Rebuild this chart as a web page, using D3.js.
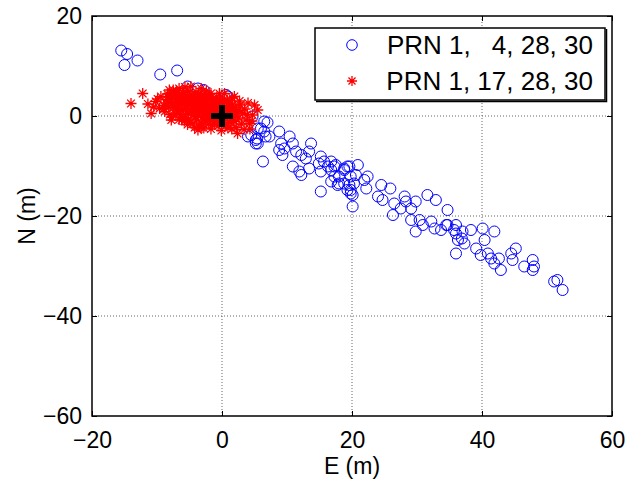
<!DOCTYPE html>
<html>
<head>
<meta charset="utf-8">
<script src="https://cdn.jsdelivr.net/npm/d3@7"></script>
<style>
  body { margin: 0; background: #fff; }
  svg text { font-family: "Liberation Sans", Arial, sans-serif; fill: #000; }
</style>
</head>
<body>
<div id="chart"></div>
<script>
// tick values
const xTicks = [-20, 0, 20, 40, 60];
const yTicks = [-60, -40, -20, 0, 20];
const legendLabels = ['PRN 1,   4, 28, 30', 'PRN 1, 17, 28, 30'];

// PRN 1, 4, 28, 30 (blue circles) - [E, N]
const blueE = [-15.5,-14.6,-13.0,-15.0,-9.5,-6.9,-5.3,-3.7,-2.8,0.6,0.9,
  4.7,6.5,6.0,4.5,5.4,5.2,6.7,
  7.0,5.5,6.5,4.0,5.2,5.5,7.3,8.8,10.4,9.1,8.8,9.6,10.9,11.4,9.3,6.3,13.7,12.2,12.9,13.4,10.9,12.2,11.9,13.4,15.2,15.7,14.9,16.3,16.8,15.2,17.5,15.2,18.8,19.3,18.0,16.8,17.8,18.8,19.6,19.3,20.6,20.9,19.8,20.1,
  16.8,17.3,18.8,19.6,17.3,18.0,19.8,20.3,19.8,20.1,21.9,22.4,22.2,24.5,25.9,24.0,24.7,26.5,28.1,28.3,27.5,26.3,29.1,29.8,31.6,32.9,34.7,29.1,30.4,30.9,29.8,32.2,32.7,33.7,34.7,36.0,36.3,
  34.5,36.0,35.7,37.0,38.3,36.9,37.3,36.0,40.1,41.9,40.4,39.1,39.8,40.9,41.4,41.9,42.9,42.6,44.5,45.2,44.7,46.5,47.8,48.0,47.8,51.1,51.6,52.4];
const blueN = [13.1,12.4,11.1,10.2,8.3,9.1,5.9,5.5,5.2,4.2,3.9,
  -0.1,-1.1,-2.5,-3.8,-4.5,-5.5,-4.1,
  -1.3,-2.5,-3.1,-4.1,-4.8,-5.5,-4.1,-3.1,-4.1,-5.5,-6.8,-6.5,-5.5,-7.1,-7.8,-9.1,-5.5,-7.8,-8.5,-7.1,-10.1,-11.8,-11.1,-10.5,-8.1,-9.1,-9.5,-10.1,-10.8,-11.1,-9.8,-15.1,-10.8,-10.1,-12.1,-13.1,-13.8,-13.5,-13.8,-14.8,-11.8,-9.8,-14.8,-15.8,
  -9.1,-10.1,-10.5,-10.1,-12.1,-13.5,-12.1,-13.5,-15.5,-18.1,-12.8,-12.1,-14.5,-13.8,-14.5,-16.1,-16.8,-17.5,-16.1,-17.1,-18.5,-19.8,-18.5,-17.1,-15.8,-16.8,-18.8,-20.8,-20.8,-21.8,-23.1,-21.1,-22.5,-22.8,-21.8,-23.5,-24.8,
  -21.8,-21.8,-22.8,-23.1,-22.8,-24.5,-25.5,-27.5,-22.5,-23.1,-24.8,-26.5,-27.8,-27.5,-28.5,-29.5,-30.8,-28.5,-27.5,-26.5,-28.8,-30.1,-28.8,-30.1,-30.8,-33.1,-32.8,-34.8];

// PRN 1, 17, 28, 30 (red stars) - [E, N]
const redE = [-14.0,-12.2,-10.9,-9.4,-10.2,-8.1,-6.6,-4.8,-3.2,-1.7,0.4,1.9,5.0,5.5,4.7,4.2,2.4,0.9,-1.2,-3.7,-5.8,-7.8,-8.8,-7.0,
  -9.0,-8.5,-8.2,-7.9,-7.6,-7.3,-7.1,-6.9,-6.7,-6.5,-6.3,-6.1,-6.0,-5.8,-5.6,-5.5,-5.3,-5.2,-5.0,-4.9,-4.8,-4.6,-4.5,-4.3,-4.2,-4.0,-3.9,-3.8,-3.6,-3.5,-3.4,-3.3,-3.1,-3.0,-2.9,-2.8,-2.6,-2.5,-2.4,-2.3,-2.1,-2.0,-1.9,-1.8,-1.6,-1.5,-1.4,-1.3,-1.1,-1.0,-0.9,-0.8,-0.6,-0.5,-0.4,-0.3,-0.2,0.0,0.1,0.3,0.5,0.6,0.8,0.9,1.1,1.2,1.4,1.6,1.8,2.0,2.2,2.3,2.6,2.8,3.0,3.2,3.5,3.7,4.0,4.3,
  -8.6,-8.0,-7.5,-7.2,-6.8,-6.4,-6.2,-5.9,-5.7,-5.4,-5.1,-4.9,-4.7,-4.4,-4.1,-3.9,-3.7,-3.6,-3.3,-3.2,-2.9,-2.7,-2.5,-2.2,-2.0,-1.8,-1.5,-1.3,-1.1,-0.8,-0.6,-0.2,0.2,0.4,0.7,1.0,1.3,1.7,2.1,2.5,
  -9.6,-10.5,-11.4,-9.9,-8.4,-7.7,-6.6,-5.3,-4.2,-2.8,-1.7,-0.1,1.5,3.4,4.6,3.9,2.7,1.6,-0.4,-2.4,-5.7,-7.5,
  -7.4,-6.9,-6.6,-6.1,-5.6,-5.4,-5.0,-4.7,-4.4,-4.0,-3.8,-3.4,-3.0,-2.7,-2.6,-2.3,-1.9,-1.7,-1.4,-1.2,-0.9,-0.7,-0.5,-0.1,0.3,0.5,0.9,1.3,1.6,2.0,-8.3,-7.0,-8.9,-7.8,-6.2,-4.6,-3.1,-2.0,-0.6,0.8];
const redN = [2.5,4.5,0.5,3.9,2.9,5.2,5.5,5.9,5.5,4.5,4.5,3.9,2.2,1.2,0.2,-1.5,-3.5,-2.4,-1.5,-2.8,-1.0,-0.8,0.9,1.2,
  2.1,3.3,1.8,4.1,2.6,3.6,0.4,4.7,2.0,3.0,1.1,4.2,-0.3,2.4,3.7,1.6,5.0,0.5,2.9,-1.2,4.3,1.9,3.4,0.2,2.6,4.8,-0.8,1.4,3.1,-2.0,2.2,4.0,0.7,-0.3,2.8,1.5,3.6,-1.1,0.3,2.1,4.1,1.0,-0.5,2.9,1.7,-1.8,3.3,0.4,2.4,-0.9,1.2,3.8,0.0,2.0,-1.4,1.5,3.0,-0.6,2.5,0.8,-2.0,1.9,3.2,-0.2,1.3,-1.3,2.6,0.3,-0.9,1.7,-2.3,0.9,-0.4,2.2,-1.6,0.5,1.4,-0.8,2.6,-2.6,
  2.6,0.3,1.7,4.5,3.3,0.3,2.6,4.6,1.2,3.2,-0.6,2.3,0.9,3.9,1.1,2.7,0.1,4.4,1.8,-1.4,3.4,0.6,2.5,-0.1,3.3,1.3,0.1,2.2,-0.5,1.6,2.7,0.6,1.6,-0.9,0.4,2.0,0.6,1.2,0.0,1.1,
  1.5,1.8,2.4,3.4,4.4,-0.2,-0.7,-1.7,-2.3,-2.4,-2.6,-2.9,-2.6,-2.7,-1.0,0.3,3.0,3.6,4.5,5.0,5.8,5.2,
  2.2,1.5,3.9,3.4,0.2,2.0,4.1,3.0,1.4,-0.2,3.5,0.9,2.4,4.4,-0.4,1.3,3.7,0.6,-0.8,1.9,3.2,-0.3,1.1,2.1,3.3,-0.4,1.6,-0.5,2.2,-1.1,3.8,5.0,1.4,2.9,-0.8,-1.6,-2.3,-1.6,-2.0,-1.5];

const W = 625, H = 486;
const margin = {left: 92, right: 13, top: 16, bottom: 70};
const width = W - margin.left - margin.right;
const height = H - margin.top - margin.bottom;

const svg = d3.select('#chart').append('svg').attr('width', W).attr('height', H);
const g = svg.append('g').attr('transform', `translate(${margin.left}, ${margin.top})`);

const x = d3.scaleLinear().domain([-20, 60]).range([0, width]);
const y = d3.scaleLinear().domain([-60, 20]).range([height, 0]);

// dotted grid
g.append('g').attr('class', 'grid')
  .selectAll('line.gx').data(xTicks.slice(1, -1)).enter().append('line')
  .attr('x1', d => x(d)).attr('x2', d => x(d)).attr('y1', 0).attr('y2', height);
g.select('.grid')
  .selectAll('line.gy').data(yTicks.slice(1, -1)).enter().append('line')
  .attr('y1', d => y(d)).attr('y2', d => y(d)).attr('x1', 0).attr('x2', width);
g.selectAll('.grid line').attr('stroke', '#666').attr('stroke-width', 1).attr('stroke-dasharray', '1,2');

// blue circles
const blue = blueE.map((e, i) => ({e: e, n: blueN[i]}));
g.selectAll('.pt-blue').data(blue).enter().append('circle')
  .attr('class', 'pt-blue')
  .attr('cx', d => x(d.e)).attr('cy', d => y(d.n)).attr('r', 5.5)
  .attr('fill', 'none').attr('stroke', '#0000ff').attr('stroke-width', 1);

// red stars
const starPath = s => `M${-s},0H${s}M0,${-s}V${s}M${-s*0.7},${-s*0.7}L${s*0.7},${s*0.7}M${-s*0.7},${s*0.7}L${s*0.7},${-s*0.7}`;
const red = redE.map((e, i) => ({e: e, n: redN[i]}));
g.selectAll('.pt-red').data(red).enter().append('path')
  .attr('class', 'pt-red')
  .attr('transform', d => `translate(${x(d.e)},${y(d.n)})`)
  .attr('d', starPath(5.5))
  .attr('fill', 'none').attr('stroke', '#ff0000').attr('stroke-width', 1.3);

// reference point
g.append('path')
  .attr('transform', `translate(${x(0)},${y(0)})`)
  .attr('d', 'M-11,0H11M0,-11V11')
  .attr('stroke', '#000').attr('stroke-width', 6);

// axes
const xAxis = d3.axisBottom(x).tickValues(xTicks).tickSizeInner(-5).tickSizeOuter(0).tickPadding(16);
const yAxis = d3.axisLeft(y).tickValues(yTicks).tickSizeInner(-5).tickSizeOuter(0).tickPadding(10);
g.append('g').attr('class', 'x-axis').attr('transform', `translate(0, ${height})`).call(xAxis);
g.append('g').attr('class', 'y-axis').call(yAxis);
g.append('g').attr('class', 'x-axis2').call(d3.axisTop(x).tickValues(xTicks).tickSizeInner(-5).tickSizeOuter(0).tickFormat(''));
g.append('g').attr('class', 'y-axis2').attr('transform', `translate(${width}, 0)`)
  .call(d3.axisRight(y).tickValues(yTicks).tickSizeInner(-5).tickSizeOuter(0).tickFormat(''));
g.selectAll('.domain').remove();
g.selectAll('.tick line').attr('stroke', '#000');
g.selectAll('.tick text').style('font-size', '23px');

g.append('rect').attr('width', width).attr('height', height)
  .attr('fill', 'none').attr('stroke', '#000').attr('stroke-width', 1.5);

// axis titles
svg.append('text').attr('x', margin.left + width / 2).attr('y', 474)
  .attr('text-anchor', 'middle').style('font-size', '23px').text('E (m)');
svg.append('text').attr('transform', 'translate(35, 216) rotate(-90)')
  .attr('text-anchor', 'middle').style('font-size', '23px').text('N (m)');

// legend
const lg = svg.append('g').attr('class', 'legend');
lg.append('rect').attr('x', 315).attr('y', 28).attr('width', 290).attr('height', 72)
  .attr('fill', '#fff').attr('stroke', '#000').attr('stroke-width', 1.5);
lg.append('path').attr('d', 'M316,101.5H606.5V29').attr('fill', 'none').attr('stroke', '#000').attr('stroke-width', 1.5);
const rowsY = [45, 81];
lg.append('circle').attr('cx', 352).attr('cy', rowsY[0]).attr('r', 5.3)
  .attr('fill', 'none').attr('stroke', '#0000ff');
lg.append('path').attr('transform', `translate(352,${rowsY[1]})`).attr('d', starPath(5))
  .attr('fill', 'none').attr('stroke', '#ff0000').attr('stroke-width', 1.3);
const parts = legendLabels.map(s => s.split(/,\s+/));
// first label: "PRN 1," left, rest right-aligned to match MATLAB padding
lg.append('text').attr('x', 387).attr('y', rowsY[0] + 9).style('font-size', '26px').text(parts[0][0] + ',');
lg.append('text').attr('x', 593).attr('y', rowsY[0] + 9).attr('text-anchor', 'end').style('font-size', '26px')
  .text(parts[0].slice(1).join(', '));
lg.append('text').attr('x', 593).attr('y', rowsY[1] + 9).attr('text-anchor', 'end').style('font-size', '26px')
  .text(legendLabels[1]);
</script>
</body>
</html>
